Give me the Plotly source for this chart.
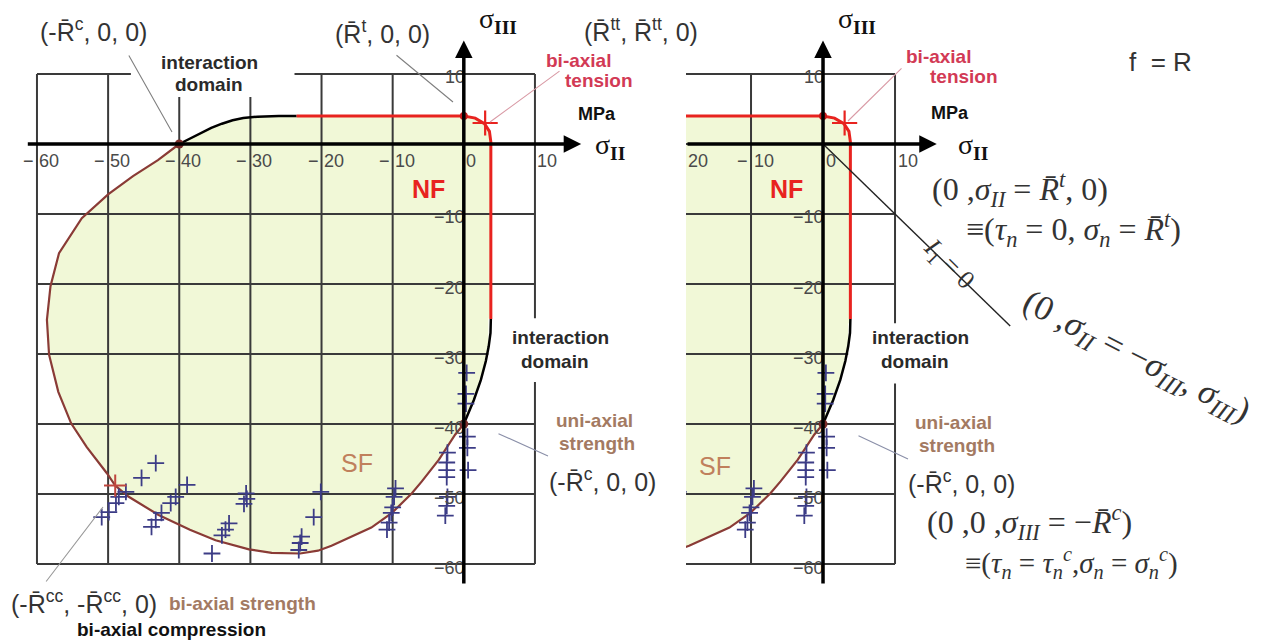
import plotly.graph_objects as go

W, H = 1271, 642

# ---------------- failure envelope in the sigma_I = 0 plane (MPa) ----------------
# tension cut-off (no-fracture boundary, red)
nf_s2 = [-23.5, -12.0, 0.0, 1.6, 2.9, 3.6, 3.8, 3.8]
nf_s3 = [4.0, 4.0, 4.0, 3.7, 2.9, 1.8, 0.3, -25.0]
# interaction domain, upper-left branch (black)
int_up_s2 = [-40.0, -38.5, -37.0, -35.5, -34.0, -32.5, -31.0, -29.0, -26.0, -23.5]
int_up_s3 = [0.0, 0.8, 1.6, 2.3, 2.9, 3.4, 3.7, 3.9, 4.0, 4.0]
# interaction domain, lower-right branch (black)
int_lo_s2 = [3.8, 3.75, 3.5, 3.1, 2.4, 1.4, 0.5, 0.0]
int_lo_s3 = [-25.0, -27.0, -28.9, -31.0, -33.7, -36.6, -38.8, -40.0]
# shear-fracture boundary from (-Rc, 0) round to (0, -Rc) (brown)
sf_s2 = [-40.0, -43.0, -46.5, -50.0, -53.7, -56.9, -58.1, -58.6, -58.3, -57.0, -55.2,
         -53.0, -50.2, -49.0, -47.1, -42.9, -38.5, -34.9, -30.2, -27.0, -23.0, -20.5,
         -18.6, -15.5, -13.0, -10.1, -7.3, -5.9, -3.5, -1.2, 0.0]
sf_s3 = [0.0, -2.3, -4.6, -7.2, -10.6, -15.6, -20.3, -25.1, -30.1, -35.4, -39.9,
         -43.3, -47.0, -48.8, -50.4, -53.0, -55.1, -56.6, -57.9, -58.4, -58.5, -58.1,
         -57.4, -56.0, -54.8, -52.7, -49.9, -48.2, -45.1, -41.5, -40.0]

# characteristic strengths
Rc = 40.0          # uni-axial compressive strength
Rt = 4.0           # uni-axial tensile strength
Rtt = 3.0          # bi-axial tensile strength
Rcc = 49.0         # bi-axial compressive strength

# test results (sigma_II, sigma_III)
test_s2 = [-47.5, -48.5, -48.9, -49.9, -50.9,
           -43.3, -45.3, -38.9, -40.5, -41.2, -42.5, -43.3, -43.9,
           -30.6, -30.5, -30.9,
           -33.0, -33.5, -34.0, -35.4,
           -20.1, -21.1, -22.8, -23.0, -23.2,
           -9.6, -9.8, -10.0, -10.2, -10.5, -10.8,
           -2.3, -2.4, -2.4, -2.4, -2.3, -2.4, -2.6,
           0.4, 0.3, 0.3, 0.5, 0.5, 0.6]
test_s3 = [-49.7, -50.4, -51.3, -52.6, -53.3,
           -45.6, -47.7, -48.7, -50.4, -51.3, -52.7, -53.7, -54.7,
           -49.9, -50.7, -51.4,
           -54.2, -55.1, -55.9, -58.5,
           -49.7, -53.3, -56.1, -57.0, -58.0,
           -49.2, -50.4, -51.9, -52.7, -54.1, -55.1,
           -44.1, -45.5, -46.6, -47.6, -50.4, -51.7, -53.1,
           -32.7, -35.7, -37.1, -41.8, -43.4, -46.6]

# axis ticks
x_ticks_left = [-60, -50, -40, -30, -20, -10, 0, 10]
x_ticks_right = [-20, -10, 0, 10]
y_ticks = [10, -10, -20, -30, -40, -50, -60]

# ---------------- colours ----------------
C_FILL = "#f1f8d7"
C_GRID = "#3a3a3a"
C_RED = "#e8231f"
C_BROWN = "#8a3b36"
C_TEST = "#3c3c86"
C_TICK = "#4a4a4a"
C_TEXT = "#2a2a2a"
C_TAN = "#a37a62"
C_PINK = "#d23a55"

# axes geometry (page pixels per MPa)
LEFT_RANGE = [-61.5, 16.8]
RIGHT_RANGE = [-19.03, 27.4]
Y_RANGE = [-63.0, 15.0]
left_px = (26.3, 26.3 + (LEFT_RANGE[1] - LEFT_RANGE[0]) * 7.114)
right_px = (686.0, 686.0 + (RIGHT_RANGE[1] - RIGHT_RANGE[0]) * 7.2)
y_px = (39.0, 585.0)

fig = go.Figure()


def add(trace, xa):
    trace.update(xaxis=xa, yaxis="y", showlegend=False, hoverinfo="skip")
    fig.add_trace(trace)


def grid_lines(x_lines, x_lo, x_hi, y_lines, y_lo, y_hi):
    xs, ys = [], []
    for v in x_lines:
        xs += [v, v, None]
        ys += [y_lo, y_hi, None]
    for v in y_lines:
        xs += [x_lo, x_hi, None]
        ys += [v, v, None]
    return xs, ys


def white_box(x0, x1, y0, y1, xa):
    add(go.Scatter(x=[x0, x1, x1, x0, x0], y=[y0, y0, y1, y1, y0], mode="lines",
                   fill="toself", fillcolor="white", line=dict(width=0)), xa)


def panel(xa, grid_x, grid_xlo, boxes):
    # region without fracture, closed polygon
    poly_x = nf_s2 + int_lo_s2 + sf_s2[::-1] + int_up_s2
    poly_y = nf_s3 + int_lo_s3 + sf_s3[::-1] + int_up_s3
    add(go.Scatter(x=poly_x, y=poly_y, mode="lines", fill="toself",
                   fillcolor=C_FILL, line=dict(width=0)), xa)
    gx, gy = grid_lines(grid_x, grid_xlo, 10, [v for v in range(-60, 11, 10)], -60, 10)
    add(go.Scatter(x=gx, y=gy, mode="lines", line=dict(color=C_GRID, width=2)), xa)
    for b in boxes:
        white_box(*b, xa)
    add(go.Scatter(x=sf_s2, y=sf_s3, mode="lines", line=dict(color=C_BROWN, width=2.2)), xa)
    add(go.Scatter(x=int_up_s2, y=int_up_s3, mode="lines", line=dict(color="black", width=2.5)), xa)
    add(go.Scatter(x=int_lo_s2, y=int_lo_s3, mode="lines", line=dict(color="black", width=2.5)), xa)
    add(go.Scatter(x=nf_s2, y=nf_s3, mode="lines", line=dict(color=C_RED, width=3)), xa)
    add(go.Scatter(x=test_s2, y=test_s3, mode="markers",
                   marker=dict(symbol="cross-thin", size=12, line=dict(color=C_TEST, width=1.8))), xa)
    add(go.Scatter(x=[-Rcc], y=[-Rcc + 0.2], mode="markers",
                   marker=dict(symbol="cross-thin", size=16, line=dict(color="#c0463e", width=2))), xa)
    add(go.Scatter(x=[Rtt], y=[Rtt], mode="markers",
                   marker=dict(symbol="cross-thin", size=18, line=dict(color=C_RED, width=2.2))), xa)
    add(go.Scatter(x=[-Rc, 0], y=[0, -Rc], mode="markers",
                   marker=dict(symbol="circle", size=9, color="#7a2c2a")), xa)
    add(go.Scatter(x=[0], y=[Rt], mode="markers",
                   marker=dict(symbol="circle", size=8, color="#c81e1e")), xa)


# left panel: full grid from -60 to 10
panel("x", [-60, -50, -40, -30, -20, -10, 10], -60,
      [(-46.8, -23.8, 6.7, 15.0), (3.45, 20.0, -24.9, -34.0)])
# right panel: detail of the tension corner
panel("x2", [-10, 10], RIGHT_RANGE[0],
      [(3.5, 16.0, -25.6, -34.2)])

# I1 = 0 line through the origin (sigma_III = -sigma_II)
i1_s2 = [0.0, 26.0]
add(go.Scatter(x=i1_s2, y=[-v for v in i1_s2], mode="lines",
               line=dict(color="#222222", width=1.4)), "x2")

ann = []


def P(x, y):
    return x / W, 1 - y / H


def text(t, x, y, size=16, color=C_TEXT, family="Liberation Sans", angle=0,
         xanchor="center", yanchor="middle"):
    px_, py_ = P(x, y)
    ann.append(dict(text=t, x=px_, y=py_, xref="paper", yref="paper", showarrow=False,
                    font=dict(size=size, color=color, family=family), textangle=angle,
                    xanchor=xanchor, yanchor=yanchor))


def leader(x0, y0, x1, y1, color="#7f7f7f", width=1.1):
    hx, hy = P(x1, y1)
    ann.append(dict(text="", x=hx, y=hy, xref="paper", yref="paper", showarrow=True,
                    ax=x0 - x1, ay=y0 - y1, axref="pixel", ayref="pixel",
                    arrowhead=0, arrowwidth=width, arrowcolor=color))


TICK_FONT = "Liberation Sans Narrow, Liberation Sans"


def tick_text(t, x, y, xa, xanchor, xshift=0):
    ann.append(dict(text=t, x=x, y=y, xref=xa, yref="y", showarrow=False,
                    xanchor=xanchor, yanchor="middle", xshift=xshift,
                    font=dict(size=18, color=C_TICK, family=TICK_FONT)))


# x tick labels
for v in x_ticks_left:
    if v < 0:
        tick_text("\u2212", v, -2.4, "x", "right", -1)
    tick_text(str(abs(v)), v, -2.4, "x", "left", 0)
for v in x_ticks_right:
    if v == -20:
        tick_text("20", RIGHT_RANGE[0], -2.4, "x2", "left", 0)
        continue
    if v < 0:
        tick_text("\u2212", v, -2.4, "x2", "right", -1)
    tick_text(str(abs(v)), v, -2.4, "x2", "left", 1)
# y tick labels
for xa in ("x", "x2"):
    for v in y_ticks:
        t = str(v) if v > 0 else "\u2212" + str(abs(v))
        tick_text(t, 0, v - 0.5, xa, "right", 3)

# coordinate axes with arrow heads
for xa, xr in (("x", LEFT_RANGE), ("x2", [RIGHT_RANGE[0], 15.8])):
    tip = 16.5 if xa == "x" else 15.8
    ann.append(dict(text="", x=tip, y=0, xref=xa, yref="y", ax=xr[0], ay=0,
                    axref=xa, ayref="y", showarrow=True, arrowhead=2, arrowsize=1.0,
                    arrowwidth=3.5, arrowcolor="black"))
    ann.append(dict(text="", x=0, y=14.8, xref=xa, yref="y", ax=0, ay=Y_RANGE[0],
                    axref=xa, ayref="y", showarrow=True, arrowhead=2, arrowsize=1.0,
                    arrowwidth=3.5, arrowcolor="black"))

RB = "R\u0304"
SERIF = "Liberation Serif"
LBL = 25   # coordinate-triple labels
BLD = 19   # bold captions

# ---- left panel texts ----
text("(-" + RB + "<sup>c</sup>, 0, 0)", 93, 30, LBL, "#333")
leader(128, 54, 172, 132)
text("<b>interaction</b>", 209, 62, BLD)
text("<b>domain</b>", 209, 85, BLD)
text("(" + RB + "<sup>t</sup>, 0, 0)", 382, 32, LBL, "#333")
leader(395, 54, 453, 102)
text("\u03c3<sub><b>III</b></sub>", 498, 20, 28, "#111", SERIF)
text("(" + RB + "<sup>tt</sup>, " + RB + "<sup>tt</sup>, 0)", 641, 30, LBL, "#333")
text("<b>bi-axial</b>", 578, 60, BLD, C_PINK)
text("<b>tension</b>", 599, 80, BLD, C_PINK)
leader(561, 70, 490, 122, "#d99aa5")
text("<b>MPa</b>", 597, 114, 18, "#111")
text("\u03c3<sub><b>II</b></sub>", 610, 147, 28, "#111", SERIF)
text("<b>NF</b>", 428, 189, 25, C_RED)
text("SF", 357, 463, 25, "#c0805c")
text("<b>interaction</b>", 560, 337, BLD)
text("<b>domain</b>", 555, 362, BLD)
text("<b>uni-axial</b>", 594, 420, BLD, C_TAN)
text("<b>strength</b>", 597, 443, BLD, C_TAN)
text("(-" + RB + "<sup>c</sup>, 0, 0)", 602, 480, LBL, "#333")
leader(497, 433, 548, 456, "#8a8fa8")
text("(-" + RB + "<sup>cc</sup>, -" + RB + "<sup>cc</sup>, 0)", 84, 602, LBL, "#333")
leader(45, 583, 103, 507, "#999999")
text("<b>bi-axial strength</b>", 242, 603, BLD, C_TAN)
text("<b>bi-axial compression</b>", 171, 629, BLD, "#111")

# ---- right panel texts ----
text("\u03c3<sub><b>III</b></sub>", 857, 20, 28, "#111", SERIF)
text("<b>bi-axial</b>", 938, 57, BLD, C_PINK)
text("<b>tension</b>", 964, 76, BLD, C_PINK)
leader(903, 67, 848, 121, "#d99aa5")
text("f  = R", 1160, 62, 26, "#333")
text("<b>MPa</b>", 950, 113, 18, "#111")
text("\u03c3<sub><b>II</b></sub>", 973, 147, 28, "#111", SERIF)
text("<b>NF</b>", 787, 189, 25, C_RED)
text("SF", 715, 466, 25, "#c0805c")
text("(0 ,<i>\u03c3</i><sub><i>II</i></sub> = <i>" + RB + "</i><sup><i>t</i></sup>, 0)",
     1020, 190, 32, "#333", SERIF)
text("\u2261(<i>\u03c4</i><sub><i>n</i></sub> = 0, <i>\u03c3</i><sub><i>n</i></sub> = <i>"
     + RB + "</i><sup><i>t</i></sup>)", 1073, 230, 32, "#333", SERIF)
text("<i>I</i><sub>1</sub> = 0", 948, 264, 26, "#333", SERIF, angle=45)
text("(0 ,<i>\u03c3</i><sub><i>II</i></sub> = \u2212<i>\u03c3</i><sub><i>III</i></sub>, "
     "<i>\u03c3</i><sub><i>III</i></sub>)", 1136, 358, 35, "#333", SERIF, angle=27)
text("<b>interaction</b>", 920, 338, BLD)
text("<b>domain</b>", 915, 362, BLD)
text("<b>uni-axial</b>", 953, 422, BLD, C_TAN)
text("<b>strength</b>", 957, 445, BLD, C_TAN)
text("(-" + RB + "<sup>c</sup>, 0, 0)", 961, 482, LBL, "#333")
leader(857, 435, 908, 459, "#8a8fa8")
text("(0 ,0 ,<i>\u03c3</i><sub><i>III</i></sub> = \u2212<i>" + RB + "</i><sup><i>c</i></sup>)",
     1029, 522, 32, "#333", SERIF)
text("\u2261(<i>\u03c4</i><sub><i>n</i></sub> = <i>\u03c4</i><sub><i>n</i></sub><sup><i>c</i></sup>,"
     "<i>\u03c3</i><sub><i>n</i></sub> = <i>\u03c3</i><sub><i>n</i></sub><sup><i>c</i></sup>)",
     1071, 563, 29, "#333", SERIF)

hidden = dict(visible=False, showgrid=False, zeroline=False, fixedrange=True)
fig.update_layout(
    width=W, height=H,
    margin=dict(l=0, r=0, t=0, b=0),
    paper_bgcolor="white", plot_bgcolor="rgba(0,0,0,0)",
    xaxis=dict(range=LEFT_RANGE, domain=[left_px[0] / W, left_px[1] / W], anchor="y", **hidden),
    xaxis2=dict(range=RIGHT_RANGE, domain=[right_px[0] / W, right_px[1] / W], anchor="y", **hidden),
    yaxis=dict(range=Y_RANGE, domain=[1 - y_px[1] / H, 1 - y_px[0] / H], anchor="x", **hidden),
    annotations=ann,
    showlegend=False,
)

fig.write_html("out.html")
